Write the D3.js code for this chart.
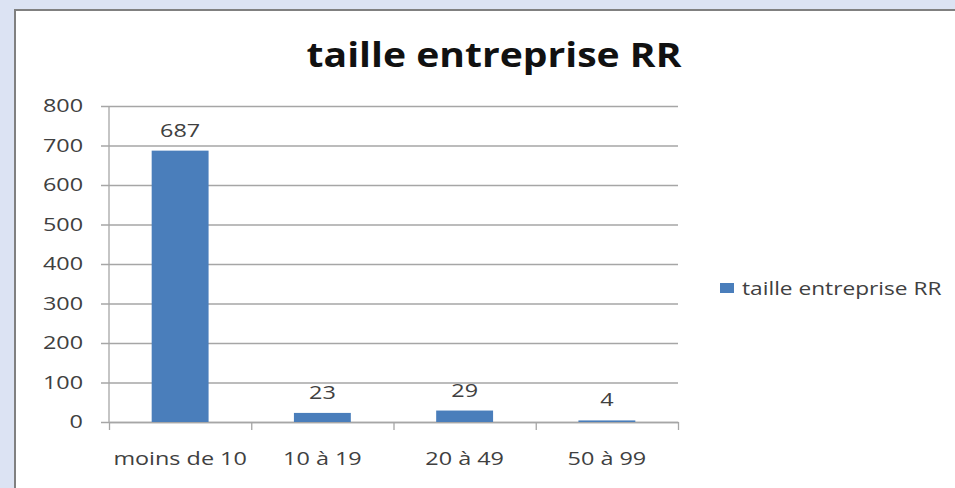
<!DOCTYPE html>
<html>
<head>
<meta charset="utf-8">
<style>
    body {
        margin: 0;
        font-family: "Open Sans", sans-serif;
    }
    svg {
        display: block;
    }
</style>
<script src="https://cdn.jsdelivr.net/npm/d3@7"></script>
</head>
<body>
<svg id="chart"></svg>
<script>
// data
let categories = ["moins de 10", "10 à 19", "20 à 49", "50 à 99"]
let values = [687, 23, 29, 4]
let yTicks = [0, 100, 200, 300, 400, 500, 600, 700, 800]
let titleText = "taille entreprise RR"
let seriesName = "taille entreprise RR"

let width = 955
let height = 488
// the original picture is stretched sideways, text follows that
let stretch = 1.3

let svg = d3.select("#chart")
    .attr("width", width)
    .attr("height", height)

// bluish backdrop and the white chart box
svg.append("rect")
    .attr("width", width)
    .attr("height", height)
    .attr("fill", "#dce3f3")

svg.append("rect")
    .attr("x", 15)
    .attr("y", 10)
    .attr("width", width)
    .attr("height", height)
    .attr("fill", "white")
    .attr("stroke", "#808080")
    .attr("stroke-width", 2)

let plot = {left: 109, right: 678, top: 106, bottom: 422}

let x = d3.scaleBand()
    .domain(categories)
    .range([plot.left, plot.right])
    .paddingInner(0.6)
    .paddingOuter(0.3)

let y = d3.scaleLinear()
    .domain([0, 800])
    .range([plot.bottom, plot.top])

// gridlines + y labels
let yAxis = svg.append("g")
    .attr("transform", `translate(${plot.left - 8},0)`)
    .call(d3.axisLeft(y)
        .tickValues(yTicks)
        .tickSize(-(plot.right - plot.left + 8))
        .tickPadding(0))

yAxis.select(".domain").remove()
yAxis.selectAll("line")
    .attr("stroke", "#a6a6a6")
    .attr("stroke-width", 1.3)
yAxis.selectAll("text")
    .attr("x", null)
    .attr("transform", `translate(-18,0) scale(${stretch},1)`)
    .attr("fill", "#404040")
    .style("font-size", "18px")
    .style("font-family", "'Open Sans', sans-serif")

// vertical axis line
svg.append("line")
    .attr("x1", plot.left).attr("x2", plot.left)
    .attr("y1", plot.top).attr("y2", plot.bottom)
    .attr("stroke", "#a6a6a6")
    .attr("stroke-width", 1.3)

// category boundary ticks
let edges = d3.scaleLinear()
    .domain([0, categories.length])
    .range([plot.left, plot.right])

let edgeAxis = svg.append("g")
    .attr("transform", `translate(0,${plot.bottom})`)
    .call(d3.axisBottom(edges)
        .tickValues(d3.range(categories.length + 1))
        .tickSize(8)
        .tickSizeOuter(0)
        .tickFormat(""))
edgeAxis.select(".domain")
    .attr("stroke", "#a6a6a6")
    .attr("stroke-width", 1.3)
edgeAxis.selectAll("line")
    .attr("stroke", "#a6a6a6")
    .attr("stroke-width", 1.3)

// category labels
let xAxis = svg.append("g")
    .attr("transform", `translate(0,${plot.bottom})`)
    .call(d3.axisBottom(x).tickSize(0).tickPadding(0))
xAxis.select(".domain").remove()
xAxis.selectAll("text")
    .attr("y", null)
    .attr("dy", null)
    .attr("transform", `translate(0,43) scale(${stretch},1)`)
    .attr("fill", "#404040")
    .style("font-size", "18px")
    .style("font-family", "'Open Sans', sans-serif")

// bars
svg.selectAll(".bar")
    .data(values)
    .enter().append("rect")
    .attr("class", "bar")
    .attr("x", (d, i) => x(categories[i]))
    .attr("width", x.bandwidth())
    .attr("y", d => y(d))
    .attr("height", d => y(0) - y(d))
    .attr("fill", "#4a7ebb")

// value labels
svg.selectAll(".val")
    .data(values)
    .enter().append("text")
    .attr("class", "val")
    .attr("transform", (d, i) =>
        `translate(${x(categories[i]) + x.bandwidth() / 2},${y(d) - 14}) scale(${stretch},1)`)
    .attr("text-anchor", "middle")
    .attr("fill", "#404040")
    .style("font-size", "18px")
    .text(d => d)

// title
svg.append("text")
    .attr("transform", `translate(494,67) scale(1.15,1)`)
    .attr("text-anchor", "middle")
    .attr("fill", "#111")
    .style("font-size", "34px")
    .style("font-weight", "bold")
    .text(titleText)

// legend
let legend = svg.append("g")
    .attr("transform", "translate(720,283)")
legend.append("rect")
    .attr("width", 14)
    .attr("height", 10)
    .attr("fill", "#4a7ebb")
legend.append("text")
    .attr("transform", `translate(22,12) scale(1.26,1)`)
    .attr("fill", "#404040")
    .style("font-size", "18px")
    .text(seriesName)
</script>
</body>
</html>
